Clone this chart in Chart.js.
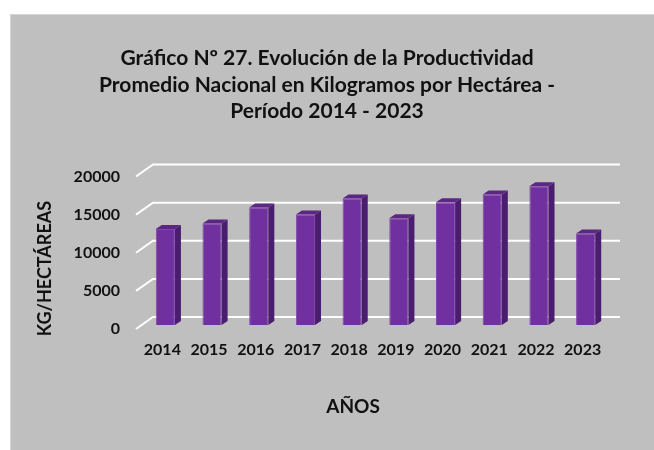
<!DOCTYPE html>
<html>
<head>
<meta charset="utf-8">
<script src="https://cdn.jsdelivr.net/npm/chart.js@4.4.1/dist/chart.umd.min.js"></script>
<style>
  body { margin: 0; background: #ffffff; }
  #wrap { width: 654px; height: 450px; }
</style>
</head>
<body>
<div id="wrap"><canvas id="canvas" width="654" height="450"></canvas></div>
<script>
// data
var years = ["2014", "2015", "2016", "2017", "2018", "2019", "2020", "2021", "2022", "2023"];
var kgPorHa = [12600, 13300, 15400, 14500, 16600, 14000, 16100, 17100, 18200, 12000];
var yTicks = [0, 5000, 10000, 15000, 20000];
var titleLines = [
    "Gráfico Nº 27. Evolución de la Productividad",
    "Promedio Nacional en Kilogramos por Hectárea -",
    "Período 2014 - 2023"
];
var xTitle = "AÑOS";
var yTitle = "KG/HECTÁREAS";

var fontName = "Lato";
var textColor = "#111111";

// gray chart box behind everything
var backgroundBox = {
    id: "backgroundBox",
    beforeDraw: function (chart) {
        var ctx = chart.ctx;
        ctx.save();
        ctx.fillStyle = "#ffffff";
        ctx.fillRect(0, 0, chart.width, chart.height);
        ctx.fillStyle = "#bfbfbf";
        ctx.fillRect(10, 14, chart.width - 10, chart.height - 14);
        ctx.strokeStyle = "#d6d6d6";
        ctx.lineWidth = 1;
        ctx.beginPath();
        ctx.moveTo(10.5, chart.height);
        ctx.lineTo(10.5, 14.5);
        ctx.lineTo(chart.width, 14.5);
        ctx.stroke();
        ctx.restore();
    }
};

// 3d looking gridlines: slanted floor edge + back wall line
var wallGrid = {
    id: "wallGrid",
    beforeDatasetsDraw: function (chart) {
        var ctx = chart.ctx;
        var area = chart.chartArea;
        var y = chart.scales.y;
        ctx.save();
        ctx.strokeStyle = "#ffffff";
        ctx.lineWidth = 2;
        yTicks.forEach(function (v) {
            var py = y.getPixelForValue(v);
            ctx.beginPath();
            ctx.moveTo(area.left - 6, py + 4);
            ctx.lineTo(area.left + 11, py - 8);
            ctx.lineTo(area.right + 11, py - 8);
            ctx.stroke();
        });
        ctx.restore();
    }
};

// side and top faces of the bars
var barDepth = {
    id: "barDepth",
    afterDatasetsDraw: function (chart) {
        var ctx = chart.ctx;
        var dx = 6, dy = 4;
        chart.getDatasetMeta(0).data.forEach(function (bar) {
            var p = bar.getProps(["x", "y", "base", "width"], true);
            var l = p.x - p.width / 2, r = p.x + p.width / 2;
            ctx.save();
            ctx.fillStyle = "#4b1d6e";
            ctx.beginPath();
            ctx.moveTo(r, p.y);
            ctx.lineTo(r + dx, p.y - dy);
            ctx.lineTo(r + dx, p.base - dy);
            ctx.lineTo(r, p.base);
            ctx.closePath();
            ctx.fill();
            ctx.fillStyle = "#5c2784";
            ctx.beginPath();
            ctx.moveTo(l, p.y);
            ctx.lineTo(l + dx, p.y - dy);
            ctx.lineTo(r + dx, p.y - dy);
            ctx.lineTo(r, p.y);
            ctx.closePath();
            ctx.fill();
            ctx.restore();
        });
    }
};

// axis titles sit where the original put them
var axisTitles = {
    id: "axisTitles",
    afterDraw: function (chart) {
        var ctx = chart.ctx;
        ctx.save();
        ctx.fillStyle = textColor;
        ctx.font = "bold 19px " + fontName;
        ctx.textAlign = "center";
        ctx.textBaseline = "middle";
        ctx.fillText(xTitle, 353, 407);
        ctx.translate(45.5, 268.5);
        ctx.rotate(-Math.PI / 2);
        ctx.font = "bold 18px " + fontName;
        ctx.fillText(yTitle, 0, 0);
        ctx.restore();
    }
};

window.onload = function () {
    var ctx = document.getElementById("canvas").getContext("2d");
    window.myBar = new Chart(ctx, {
        type: "bar",
        data: {
            labels: years,
            datasets: [{
                label: "KG/HECTÁREAS",
                data: kgPorHa,
                backgroundColor: "#7030a0",
                borderColor: "#8049aa",
                borderWidth: 1,
                categoryPercentage: 1,
                barPercentage: 0.41
            }]
        },
        options: {
            responsive: false,
            animation: false,
            layout: { padding: 0 },
            plugins: {
                legend: { display: false },
                tooltip: { enabled: false },
                title: {
                    display: true,
                    text: titleLines,
                    color: textColor,
                    font: { family: fontName, size: 21, weight: "bold", lineHeight: 26.5 / 21 },
                    padding: { top: 45, bottom: 48 }
                }
            },
            scales: {
                x: {
                    grid: { display: false, drawTicks: false },
                    border: { display: false },
                    ticks: {
                        color: textColor,
                        font: { family: fontName, size: 16, weight: "bold" },
                        padding: 15,
                        labelOffset: -3,
                        maxRotation: 0,
                        autoSkip: false
                    },
                    afterFit: function (scale) { scale.height = 125; }
                },
                y: {
                    min: 0,
                    max: 20000,
                    grid: { display: false, drawTicks: false },
                    border: { display: false },
                    ticks: {
                        stepSize: 5000,
                        color: textColor,
                        font: { family: fontName, size: 16, weight: "bold" },
                        padding: 22,
                        labelOffset: 4,
                        callback: function (v) { return String(v); }
                    },
                    afterFit: function (scale) { scale.width = 142; }
                },
                // empty right axis, only keeps room for the back wall on the right
                yRight: {
                    position: "right",
                    grid: { display: false, drawTicks: false },
                    border: { display: false },
                    ticks: { display: false },
                    afterFit: function (scale) { scale.width = 45; }
                }
            }
        },
        plugins: [backgroundBox, wallGrid, barDepth, axisTitles]
    });
};
</script>
</body>
</html>
